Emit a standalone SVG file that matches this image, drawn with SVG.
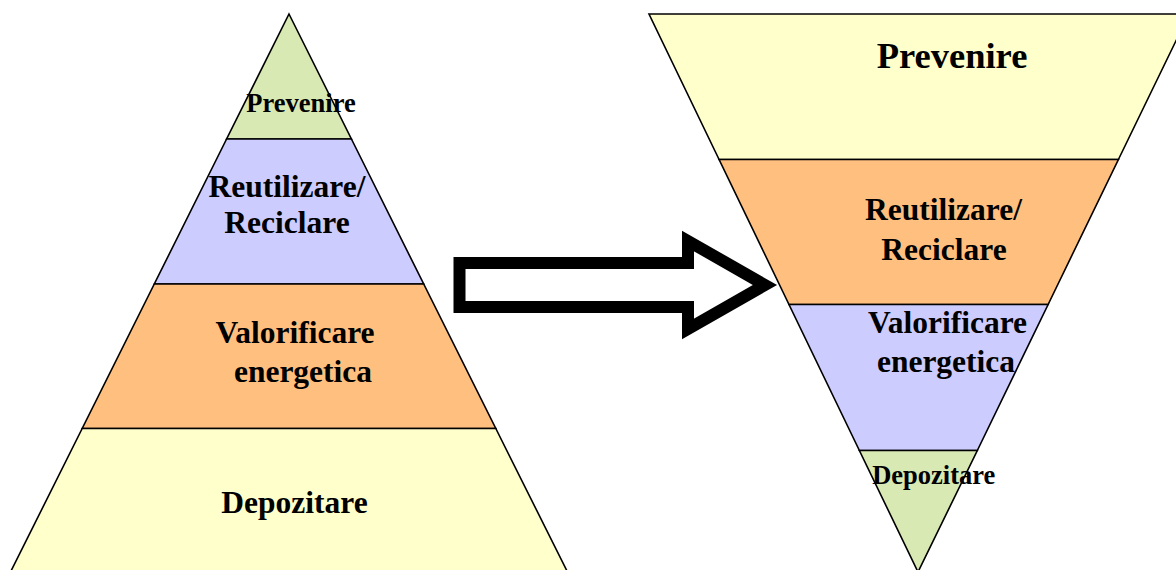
<svg xmlns="http://www.w3.org/2000/svg" width="1176" height="570" viewBox="0 0 1176 570">
  <style>
    .band { stroke: #000; stroke-width: 1.6; stroke-linejoin: miter; }
    .g { fill: #D8E9B4; }
    .b { fill: #CCCCFF; }
    .o { fill: #FFBF7F; }
    .y { fill: #FFFFCC; }
    text { font-family: "Liberation Serif", "Times New Roman", serif; font-weight: bold; fill: #000; text-anchor: middle; }
    .s { font-size: 26.5px; }
    .m { font-size: 31.5px; }
    .l { font-size: 36.5px; }
    .arrow { fill: #fff; stroke: #000; stroke-width: 12; stroke-linejoin: miter; stroke-miterlimit: 10; }
  </style>
  <rect width="1176" height="570" fill="#fff"/>

  <g id="left-pyramid">
    <g id="left-prevenire">
      <polygon class="band g" points="289,14 351.4,139 226.6,139"/>
      <text class="s" x="301" y="112">Prevenire</text>
    </g>
    <g id="left-reutilizare">
      <polygon class="band b" points="226.6,139 351.4,139 423.7,284 154.3,284"/>
      <text class="m" x="287" y="197">Reutilizare/</text>
      <text class="m" x="287" y="233">Reciclare</text>
    </g>
    <g id="left-valorificare">
      <polygon class="band o" points="154.3,284 423.7,284 495.8,428.5 82.2,428.5"/>
      <text class="m" x="295" y="343">Valorificare</text>
      <text class="m" x="303" y="382">energetica</text>
    </g>
    <g id="left-depozitare">
      <polygon class="band y" points="82.2,428.5 495.8,428.5 568.5,574 9.5,574"/>
      <text class="m" x="294.5" y="513">Depozitare</text>
    </g>
  </g>

  <g id="connectors">
    <polygon class="arrow" points="459.5,263 688,263 688,241 765,285 688,329 688,307 459.5,307"/>
  </g>

  <g id="right-pyramid">
    <g id="right-prevenire">
      <polygon class="band y" points="649,14 1189,14 1118.4,159.5 719.1,159.5"/>
      <text class="l" x="952" y="68">Prevenire</text>
    </g>
    <g id="right-reutilizare">
      <polygon class="band o" points="719.1,159.5 1118.4,159.5 1048.1,304.5 789,304.5"/>
      <text class="m" x="943.5" y="220">Reutilizare/</text>
      <text class="m" x="944" y="260">Reciclare</text>
    </g>
    <g id="right-valorificare">
      <polygon class="band b" points="789,304.5 1048.1,304.5 977.3,450.5 859.4,450.5"/>
      <text class="m" x="947.5" y="333">Valorificare</text>
      <text class="m" x="946" y="372">energetica</text>
    </g>
    <g id="right-depozitare">
      <polygon class="band g" points="859.4,450.5 977.3,450.5 918,572"/>
      <text class="s" x="933.7" y="484">Depozitare</text>
    </g>
  </g>
</svg>
